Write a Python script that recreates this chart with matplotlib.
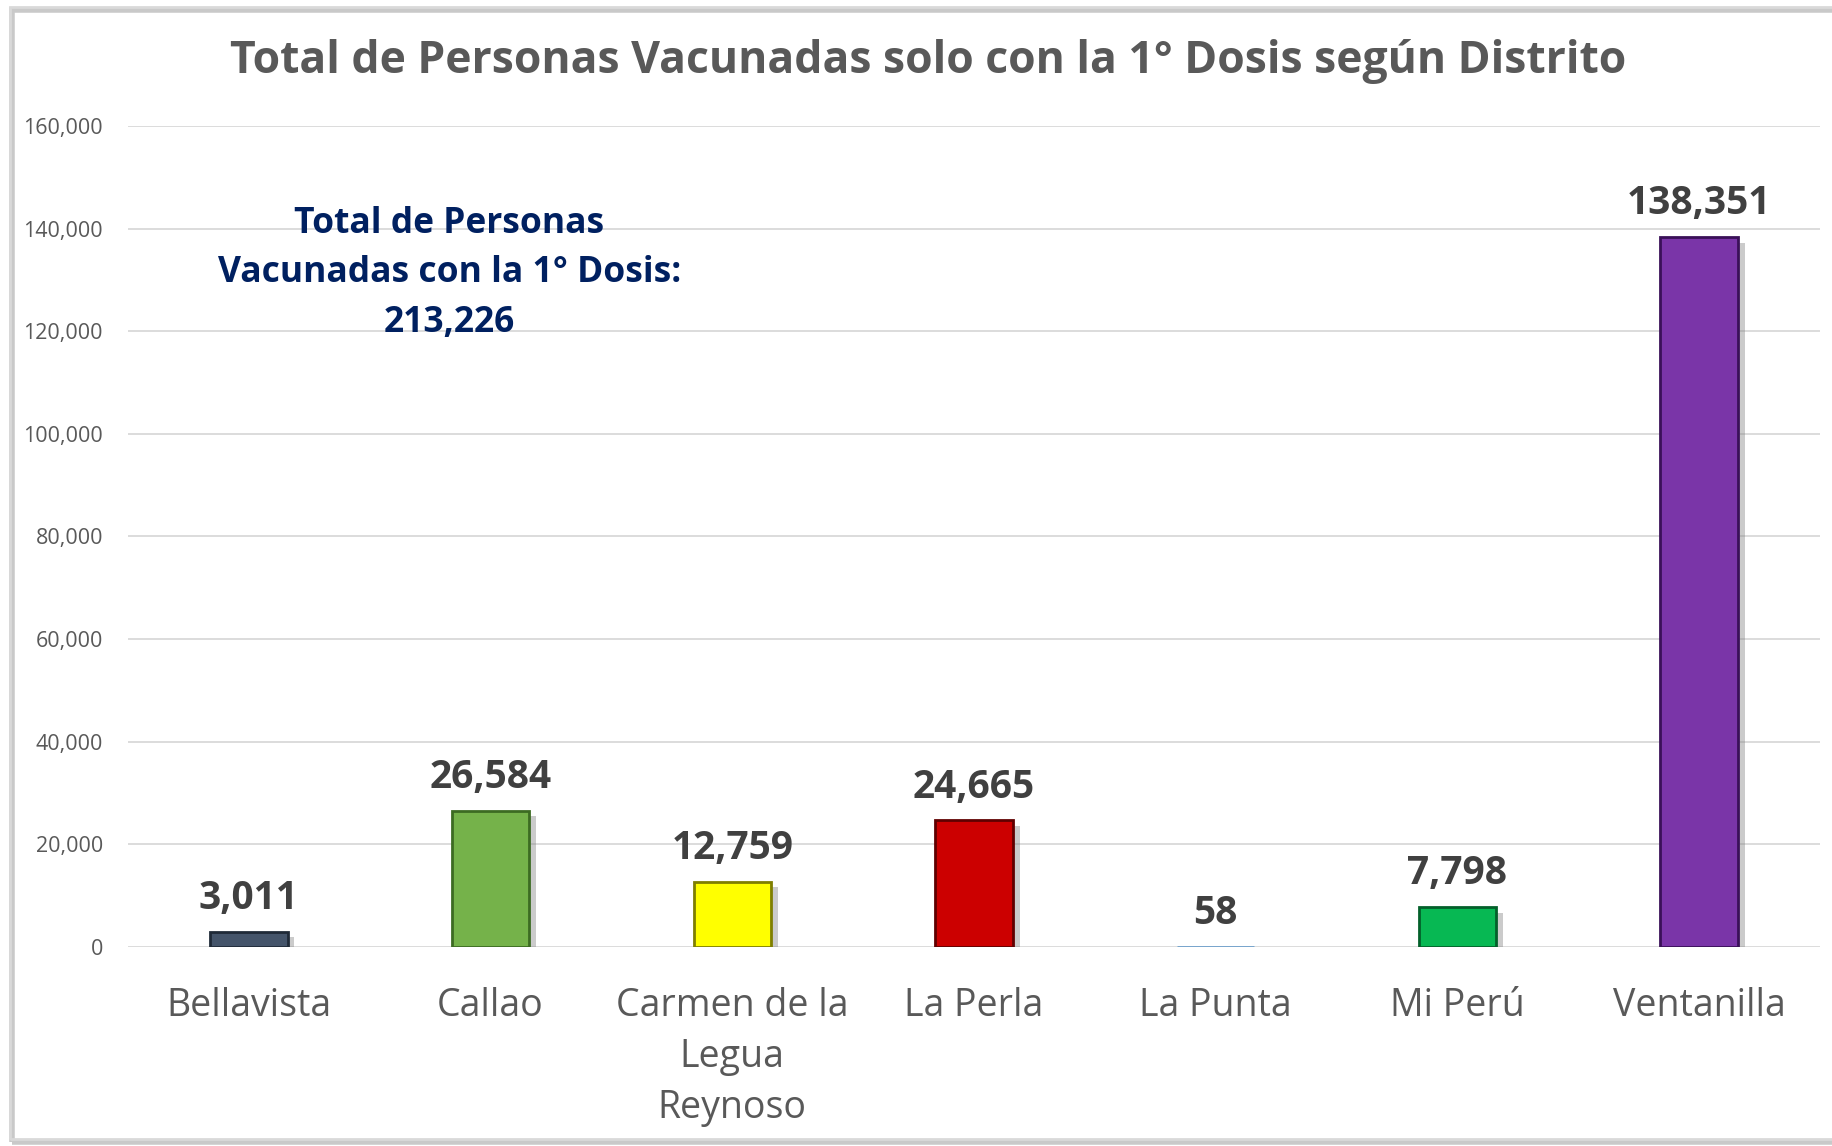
import matplotlib.pyplot as plt
import matplotlib.patheffects as pe
from matplotlib.patches import Rectangle

distritos = ["Bellavista", "Callao", "Carmen de la\nLegua\nReynoso", "La Perla",
             "La Punta", "Mi Perú", "Ventanilla"]
vacunados = [3011, 26584, 12759, 24665, 58, 7798, 138351]
colores = ["#44546A", "#75B24A", "#FFFF00", "#CC0000", "#9DC3E6", "#07B853", "#7A35A8"]
bordes = ["#1F2A38", "#3C6B22", "#7F7F00", "#600000", "#6FA0CC", "#03602A", "#3A1058"]
total = 213226
yticks = [0, 20000, 40000, 60000, 80000, 100000, 120000, 140000, 160000]

plt.rcParams['font.family'] = ['Open Sans', 'DejaVu Sans']

fig = plt.figure(figsize=(18.32, 11.46), dpi=100)

# marco gris con sombra alrededor del grafico
fig.patches.append(Rectangle((12 / 1832, 4 / 1146), 1.0, 1132 / 1146, transform=fig.transFigure,
                             facecolor='none', edgecolor='#A6A6A6', linewidth=4, alpha=0.6))
fig.patches.append(Rectangle((10 / 1832, 7 / 1146), 1.0, 1132 / 1146, transform=fig.transFigure,
                             facecolor='none', edgecolor='#D9D9D9', linewidth=2))

ax = fig.add_axes([128 / 1832, 1 - 947 / 1146, 1692 / 1832, 821 / 1146])

x = range(len(distritos))
bars = ax.bar(x, vacunados, width=0.32, color=colores, edgecolor=bordes, linewidth=2, zorder=3)
for b in bars:
    b.set_path_effects([pe.SimplePatchShadow(offset=(5, -4), shadow_rgbFace='#7F7F7F', alpha=0.4),
                        pe.Normal()])

for xi, v in zip(x, vacunados):
    ax.annotate(f"{v:,}", (xi, v), xytext=(0, 10), textcoords='offset points',
                ha='center', va='bottom', fontsize=28, fontweight='bold', color='#404040')

ax.set_xlim(-0.5, len(distritos) - 0.5)
ax.set_ylim(0, 160000)
ax.set_yticks(yticks)
ax.set_yticklabels([f"{t:,}" for t in yticks], fontsize=15.5, color='#595959')
ax.set_xticks(list(x))
ax.set_xticklabels(distritos, fontsize=27, color='#595959', linespacing=1.45, va='top')
ax.tick_params(axis='both', length=0)
ax.tick_params(axis='x', pad=29)
ax.tick_params(axis='y', pad=18)
ax.grid(axis='y', color='#D9D9D9', linewidth=1.3, zorder=0)
for s in ax.spines.values():
    s.set_visible(False)

fig.text(928 / 1832, 1 - 61 / 1146, "Total de Personas Vacunadas solo con la 1° Dosis según Distrito",
         ha='center', va='center', fontsize=32, fontweight='bold', color='#595959')

ax.text(0.83, 144500, f"Total de Personas\nVacunadas con la 1° Dosis:\n{total:,}",
        ha='center', va='top', fontsize=25.5, fontweight='bold', color='#002060', linespacing=1.5)

fig.savefig("out.png", dpi=100)
